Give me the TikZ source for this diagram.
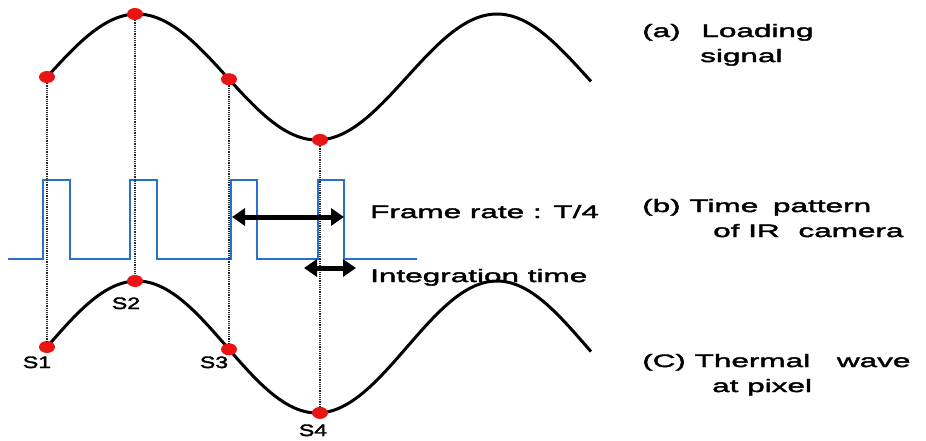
\documentclass[tikz,border=0pt]{standalone}
\usepackage{fontspec}
\setmainfont{Liberation Sans}
\newfontfamily\wfont[FakeStretch=1.75,FakeBold=2.2]{Liberation Sans}
\newfontfamily\sfontx[FakeStretch=1.4,FakeBold=2.2]{Liberation Sans}
\usetikzlibrary{shapes.geometric,arrows.meta}
\definecolor{pulseblue}{RGB}{40,112,205}
\definecolor{dotred}{RGB}{235,20,20}
\begin{document}
\begin{tikzpicture}[x=1pt,y=-1pt,
  wave/.style={line width=3pt, black},
  pulse/.style={line width=2.3pt, pulseblue},
  guide/.style={dash pattern=on 1.2pt off 1pt, line width=1.2pt, black!85},
  sdot/.style={ellipse, fill=dotred, inner sep=0pt, minimum width=16pt, minimum height=12pt},
  harrow/.style={line width=5pt, {Triangle[length=13pt,width=17pt]}-{Triangle[length=13pt,width=17pt]}},
  lbl/.style={font=\wfont\fontsize{18}{22}\selectfont, anchor=base west, inner sep=0pt},
  slbl/.style={font=\sfontx\fontsize{16.5}{20}\selectfont, anchor=base, inner sep=0pt}]
\useasboundingbox (0,0) rectangle (926,440);

% (a) loading signal and (c) thermal wave
\draw[wave] plot[domain=47:591,samples=160] (\x,{77-63*sin(\x-47)});
\draw[wave] plot[domain=47:591,samples=160] (\x,{347-66*sin(\x-47)});

% (b) IR camera time pattern
\draw[pulse] (8,259) -- (43,259) -- (43,180) -- (70,180) -- (70,259)
  -- (130,259) -- (130,180) -- (157,180) -- (157,259)
  -- (231,259) -- (231,180) -- (257,180) -- (257,259)
  -- (318,259) -- (318,180) -- (344,180) -- (344,259) -- (417,259);

% sample points
\node[sdot] (a1) at (47,77) {};
\node[sdot] (a2) at (135,14) {};
\node[sdot] (a3) at (229,79.2) {};
\node[sdot] (a4) at (320,139.9) {};
\node[sdot] (c1) at (47,347) {};
\node[sdot] (c2) at (135,281) {};
\node[sdot] (c3) at (229,349.3) {};
\node[sdot] (c4) at (320,412.9) {};

\draw[guide] (a1) -- (c1);
\draw[guide] (a2) -- (c2);
\draw[guide] (a3) -- (c3);
\draw[guide] (a4) -- (c4);

% arrows
\coordinate (fr1) at (232,217);
\coordinate (fr2) at (344,217);
\coordinate (it1) at (304,268);
\coordinate (it2) at (356,268);
\draw[harrow] (fr1) -- (fr2);
\draw[harrow] (it1) -- (it2);

% texts
\node[lbl] (frt) at (370,218) {Frame rate : T/4};
\node[lbl] (itt) at (370,282) {Integration time};
\node[slbl] (s1) at (37,368) {S1};
\node[slbl] (s2) at (126,309) {S2};
\node[slbl] (s3) at (214,368) {S3};
\node[slbl] (s4) at (313,436) {S4};

\node[lbl] (la1) at (642,37) {(a) \hspace{12pt}Loading};
\node[lbl] (la2) at (700,62) {signal};
\node[lbl] (lb1) at (642,212) {(b) Time \hspace{6pt}pattern};
\node[lbl] (lb2) at (713,237) {of IR \hspace{10pt}camera};
\node[lbl] (lc1) at (642,367) {(C) Thermal \hspace{18pt}wave};
\node[lbl] (lc2) at (712,392) {at pixel};
\end{tikzpicture}
\end{document}
